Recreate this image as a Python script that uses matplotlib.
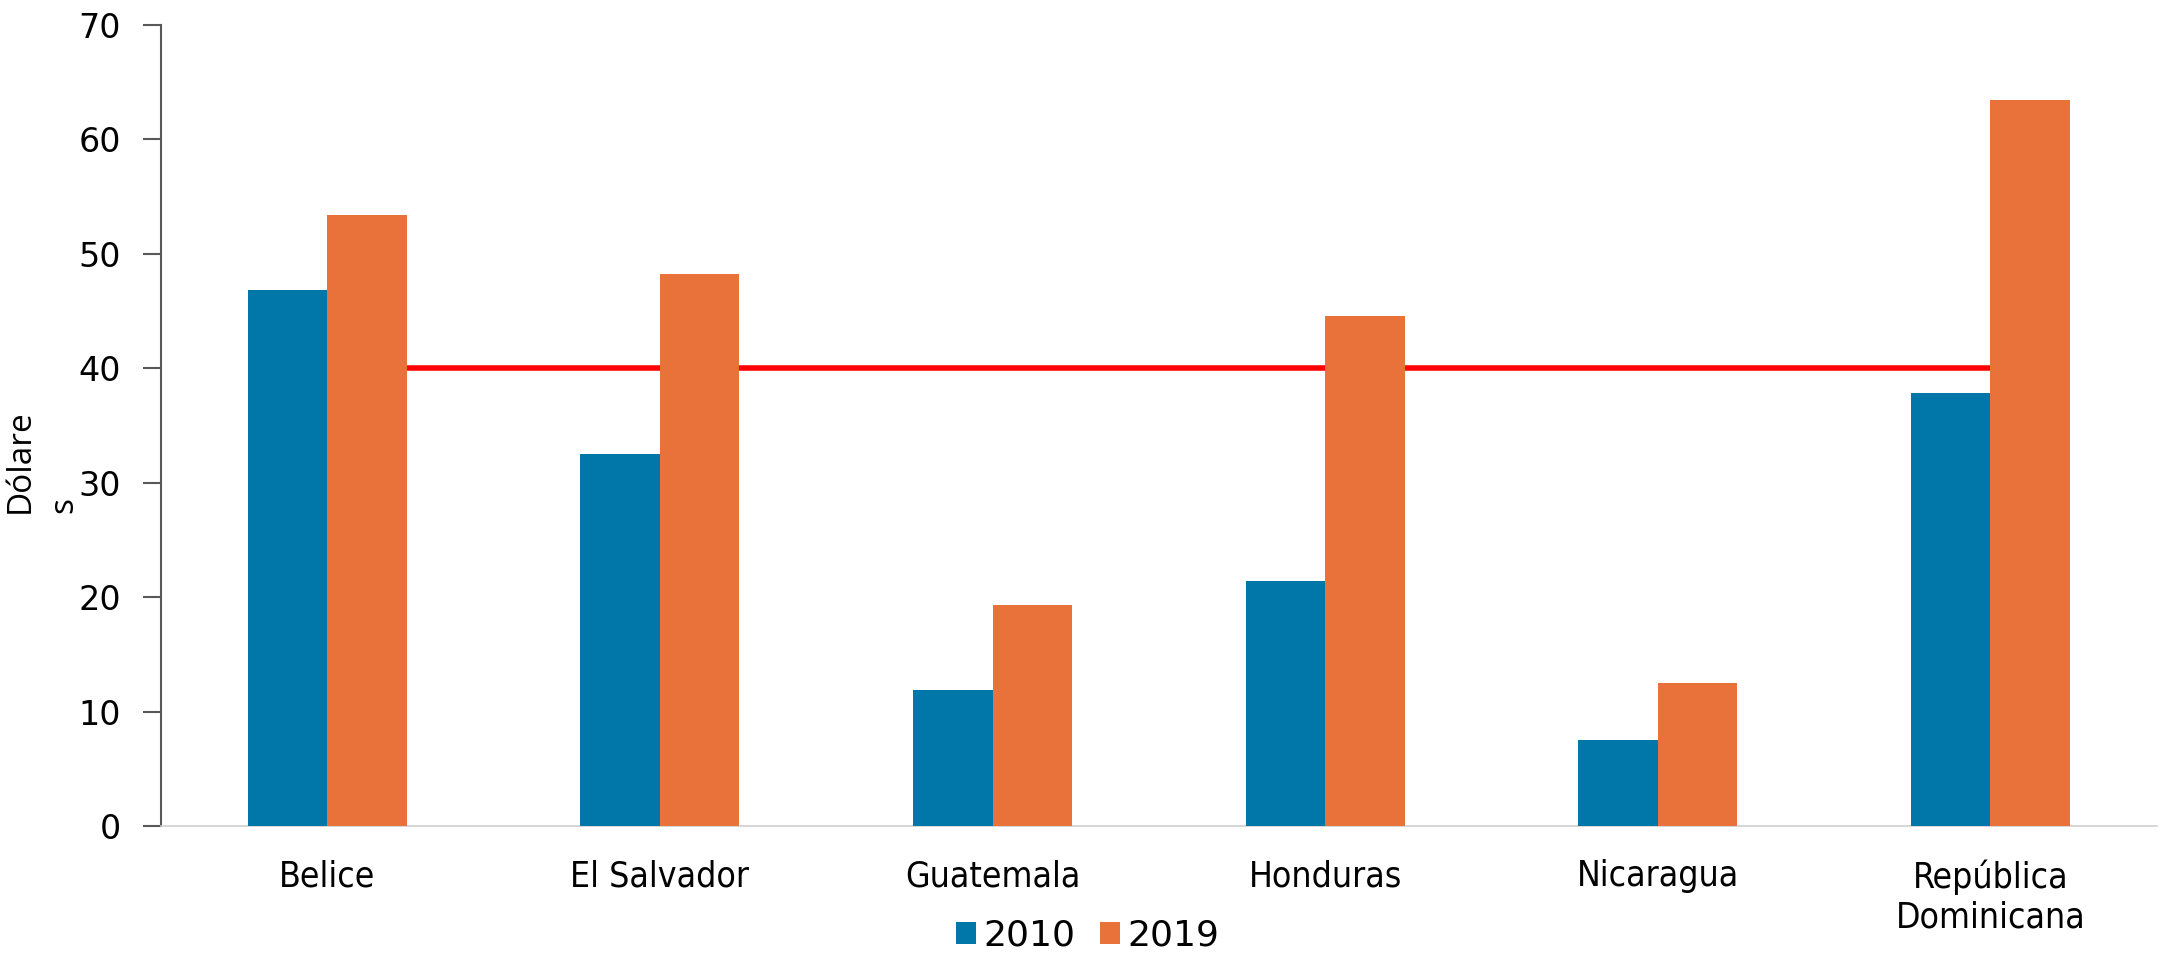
import numpy as np
import matplotlib
matplotlib.use('Agg')
import matplotlib.pyplot as plt

paises = ['Belice', 'El Salvador', 'Guatemala', 'Honduras', 'Nicaragua', 'República\nDominicana']
v2010 = [46.8, 32.5, 11.9, 21.4, 7.5, 37.8]
v2019 = [53.4, 48.2, 19.3, 44.6, 12.5, 63.4]
umbral = 40
yticks = [0, 10, 20, 30, 40, 50, 60, 70]

azul = '#0077A8'
naranja = '#E8723A'

fig = plt.figure(figsize=(21.62, 9.55), dpi=100)
ax = fig.add_axes([0.0745, 0.135, 0.923, 0.839])

x = np.arange(len(paises))
w = 0.239
ax.bar(x - w/2, v2010, w, color=azul, label='2010', zorder=3)
ax.bar(x + w/2, v2019, w, color=naranja, label='2019', zorder=3)
ax.plot([x[0], x[-1]], [umbral, umbral], color='#FF0000', lw=4, zorder=2)

ax.set_xlim(-0.5, len(paises) - 0.5)
ax.set_ylim(0, 70)
ax.set_yticks(yticks)
ax.set_xticks(x)
ax.set_xticklabels(paises, fontsize=25.5, va='top', linespacing=1.2, fontstretch='condensed')
ax.tick_params(axis='x', length=0, pad=24)
ax.tick_params(axis='y', labelsize=24, length=13, width=1.5, color='#595959', pad=16)

for s in ['top', 'right']:
    ax.spines[s].set_visible(False)
ax.spines['left'].set_color('#595959')
ax.spines['left'].set_linewidth(1.5)
ax.spines['bottom'].set_color('#D0D0D0')
ax.spines['bottom'].set_linewidth(1.2)

fig.text(0.0195, 0.517, 'Dólare\ns', rotation=90, ha='center', va='center', fontsize=24,
         family=['Open Sans', 'DejaVu Sans'], linespacing=1.45, multialignment='left')

fig.legend(loc='center', bbox_to_anchor=(0.503, 0.02), ncol=2, frameon=False, fontsize=26,
           handlelength=0.55, handleheight=0.55, handletextpad=0.2, columnspacing=0.7)

fig.savefig('out.png', dpi=100)
